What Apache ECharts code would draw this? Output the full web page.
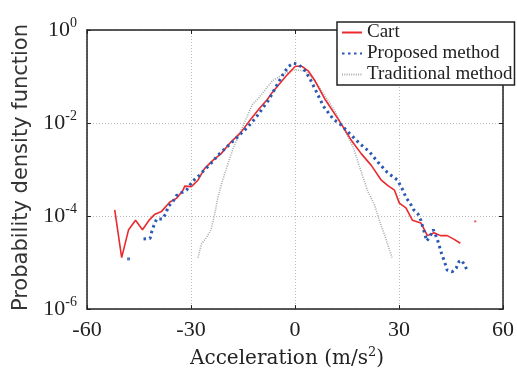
<!DOCTYPE html>
<html>
<head>
<meta charset="utf-8">
<script src="https://cdn.jsdelivr.net/npm/echarts@6/dist/echarts.min.js"></script>
<style>
  html, body { margin: 0; padding: 0; background: #fff; }
  #chart { width: 517px; height: 374px; }
</style>
</head>
<body>
<div id="chart"></div>
<script>
  // values (x in m/s^2, y = pdf)
  var cartX = [-52, -50, -48, -46, -44, -42, -40.4, -38.5, -36.1, -34.2, -32.3, -31.8, -29.9, -28, -26.1, -23.7, -21.3, -18.5, -15.6, -12.7, -10.4, -8, -6.6, -2.7, 0.1, 2, 3.9, 5.8, 8.7, 12.5, 16.3, 19.1, 22, 24.9, 26.8, 28.7, 30.1, 32, 33.9, 36.3, 38.2, 40.1, 42, 43.9, 45.8, 47.7];
  var cartY = [1.36e-4, 1.28e-5, 5.1e-5, 8.1e-5, 5.1e-5, 8.3e-5, 1.1e-4, 1.26e-4, 2e-4, 2.4e-4, 3.6e-4, 4.4e-4, 4.3e-4, 5.9e-4, 1.05e-3, 1.58e-3, 2.2e-3, 3.9e-3, 6.3e-3, 0.0122, 0.02, 0.032, 0.045, 0.10, 0.166, 0.166, 0.13, 0.08, 0.032, 0.012, 4.2e-3, 2.2e-3, 1.23e-3, 5.9e-4, 4.5e-4, 3.6e-4, 1.9e-4, 1.5e-4, 8.1e-5, 7.1e-5, 3.8e-5, 4.4e-5, 3.8e-5, 3.8e-5, 3.2e-5, 2.6e-5];
  var cartDotX = [52];
  var cartDotY = [7.7e-5];

  var propX = [-43.7, -41.8, -41.3, -40.7, -39.9, -38.2, -37.2, -36.6, -35.3, -34.2, -32.7, -31.3, -30.2, -28.9, -27.5, -26.1, -24.7, -22.3, -19.4, -16.6, -13.7, -11.3, -8.9, -7.5, -5.1, -3.2, -1.8, -0.4, 1.1, 3, 4.4, 6.3, 8.2, 11.1, 13, 15.8, 18.7, 21.5, 23.9, 26.6, 29.6, 31.3, 32, 33.2, 34.1, 35.5, 36.3, 36.8, 37.3, 38, 39, 39.9, 40.9, 41.5, 42, 42.7, 43.3, 43.9, 45.3, 46.5, 47.3, 48.1, 49, 49.9];
  var propY = [3.2e-5, 3.3e-5, 4.7e-5, 6.3e-5, 8.7e-5, 8.7e-5, 1.15e-4, 1.6e-4, 2e-4, 2.75e-4, 3.2e-4, 3.6e-4, 4.8e-4, 6.2e-4, 7.6e-4, 1e-3, 1.23e-3, 2e-3, 3.2e-3, 5e-3, 8.1e-3, 0.013, 0.023, 0.032, 0.068, 0.12, 0.166, 0.195, 0.18, 0.13, 0.087, 0.045, 0.023, 0.012, 9.5e-3, 5.9e-3, 3.6e-3, 2.4e-3, 1.45e-3, 8.7e-4, 5.9e-4, 3.4e-4, 2.5e-4, 1.9e-4, 1.4e-4, 1.1e-4, 8.1e-5, 6e-5, 4.5e-5, 2.9e-5, 3.7e-5, 5.1e-5, 3.4e-5, 2.5e-5, 1.8e-5, 1.28e-5, 9.5e-6, 6.9e-6, 6.3e-6, 7.6e-6, 1.05e-5, 1.12e-5, 8.5e-6, 6.4e-6];
  var propDotX = [-48];
  var propDotY = [1.2e-5];

  var tradX = [-28, -27, -25.6, -24.2, -23.2, -22.3, -21.3, -20.4, -18.9, -17.5, -15.6, -13.7, -12.3, -10.4, -6.6, -2.7, 0.1, 3, 5.8, 8.7, 11.5, 13.9, 16.8, 19.1, 21, 23, 24.4, 25.8, 28];
  var tradY = [1.28e-5, 2.5e-5, 3.4e-5, 5.1e-5, 1.07e-4, 2.4e-4, 4.6e-4, 7.6e-4, 1.7e-3, 3.3e-3, 6.9e-3, 0.0144, 0.025, 0.035, 0.08, 0.12, 0.14, 0.13, 0.08, 0.038, 0.018, 8.1e-3, 3e-3, 8.9e-4, 3.4e-4, 1.7e-4, 7.7e-5, 4e-5, 1.28e-5];

  var legendNames = ['Cart', 'Proposed method', 'Traditional method'];

  var pairs = function (xs, ys) {
    return xs.map(function (x, i) { return [x, ys[i]]; });
  };

  var serif = 'Liberation Serif';
  var red = '#ea2a2e';
  var blue = '#2a58b3';
  var gray = '#a3abab';

  var axisLine = { show: true, onZero: false, lineStyle: { color: '#222', width: 1.5 } };
  var tick = { show: true, inside: true, length: 4, lineStyle: { color: '#222', width: 1 } };
  var grid = { show: true, lineStyle: { color: '#bdbdbd', width: 1, type: [1, 2] } };

  var myChart = echarts.init(document.getElementById('chart'));
  myChart.setOption({
    animation: false,
    grid: { left: 87, right: 11, top: 30, bottom: 62 },
    legend: {
      data: legendNames,
      orient: 'vertical',
      left: 337,
      top: 22,
      padding: [1, 2, 1, 4],
      itemWidth: 20,
      itemHeight: 14,
      itemGap: 2,
      backgroundColor: '#fff',
      borderColor: '#222',
      borderWidth: 1.5,
      borderRadius: 0,
      itemStyle: { opacity: 0 },
      textStyle: { fontFamily: serif, fontSize: 19, color: '#222' }
    },
    xAxis: [
      {
        type: 'value',
        min: -60,
        max: 60,
        interval: 30,
        axisLine: axisLine,
        axisTick: tick,
        splitLine: grid,
        axisLabel: { margin: 10, fontFamily: serif, fontSize: 22, color: '#222' },
        name: '{a|Acceleration (m/s}{s|2}{a|)}',
        nameLocation: 'middle',
        nameGap: 32,
        nameTextStyle: {
          padding: [0, 16, 0, 0],
          rich: {
            a: { fontFamily: 'DejaVu Serif', fontSize: 20, color: '#222' },
            s: { fontFamily: 'DejaVu Serif', fontSize: 13, color: '#222', padding: [0, 0, 13, 0] }
          }
        }
      },
      {
        type: 'value',
        position: 'top',
        min: -60,
        max: 60,
        interval: 30,
        axisLine: axisLine,
        axisTick: tick,
        axisLabel: { show: false },
        splitLine: { show: false }
      }
    ],
    yAxis: [
      {
        type: 'log',
        logBase: 10,
        min: 1e-6,
        max: 1,
        interval: 2,
        axisLine: axisLine,
        axisTick: tick,
        minorTick: { show: false },
        splitLine: grid,
        axisLabel: {
          margin: 10,
          formatter: function (v) {
            return '{b|10}{s|' + Math.round(Math.log10(v)) + '}';
          },
          rich: {
            b: { fontFamily: serif, fontSize: 22, color: '#222' },
            s: { fontFamily: serif, fontSize: 14, color: '#222', padding: [0, 0, 13, 0] }
          }
        },
        name: 'Probability density function',
        nameLocation: 'middle',
        nameGap: 54,
        nameTextStyle: { fontFamily: 'DejaVu Sans', fontSize: 21, color: '#333', padding: [0, 0, 0, 4] }
      },
      {
        type: 'log',
        logBase: 10,
        position: 'right',
        min: 1e-6,
        max: 1,
        interval: 2,
        axisLine: axisLine,
        axisTick: tick,
        axisLabel: { show: false },
        splitLine: { show: false }
      }
    ],
    series: [
      {
        name: 'Traditional method',
        type: 'line',
        data: pairs(tradX, tradY),
        symbol: 'none',
        z: 2,
        lineStyle: { color: gray, width: 1.6, type: [1, 1.3] },
        itemStyle: { color: gray }
      },
      {
        name: 'Cart',
        type: 'line',
        data: pairs(cartX, cartY),
        symbol: 'none',
        z: 3,
        lineStyle: { color: red, width: 1.6 },
        itemStyle: { color: red }
      },
      {
        name: 'Proposed method',
        type: 'line',
        data: pairs(propX, propY),
        symbol: 'none',
        z: 4,
        lineStyle: { color: blue, width: 3, type: [2.5, 3.5] },
        itemStyle: { color: blue }
      },
      {
        name: 'cartDot',
        type: 'scatter',
        data: pairs(cartDotX, cartDotY),
        symbol: 'rect',
        symbolSize: 2,
        itemStyle: { color: red }
      },
      {
        name: 'propDot',
        type: 'scatter',
        data: pairs(propDotX, propDotY),
        symbol: 'rect',
        symbolSize: 3,
        itemStyle: { color: blue }
      }
    ]
  });
</script>
</body>
</html>
